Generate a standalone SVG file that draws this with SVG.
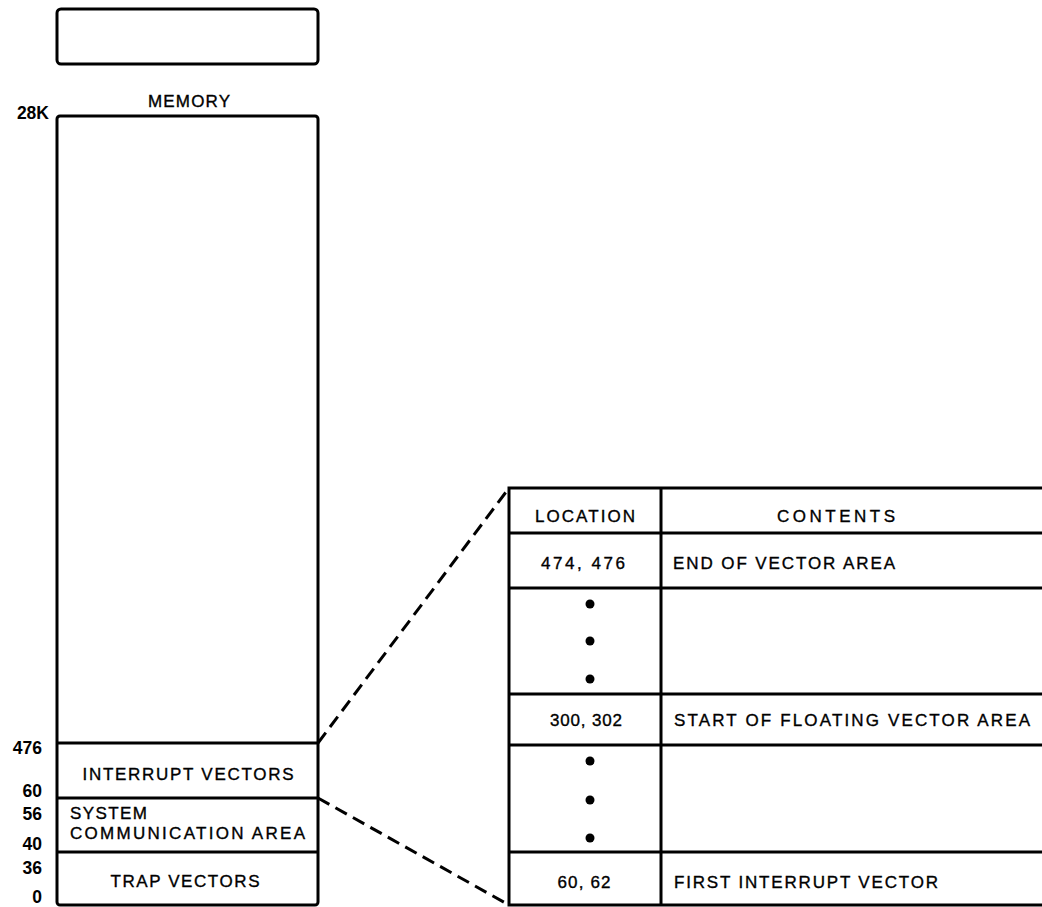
<svg xmlns="http://www.w3.org/2000/svg" width="1042" height="907" viewBox="0 0 1042 907">
<style>
.box{fill:#fff;stroke:#000;stroke-width:3}
.ln{stroke:#000;stroke-width:3;fill:none}
.dash{stroke:#000;stroke-width:3;fill:none;stroke-dasharray:13 7}
text{font-family:"Liberation Sans",Arial,sans-serif;font-size:17px;fill:#000;stroke:#000;stroke-width:0.35}
.num{font-weight:bold;font-size:17.5px;stroke-width:0;text-anchor:end}
.mid{text-anchor:middle}
</style>
<rect width="1042" height="907" fill="#fff"/>
<g id="top-box"><rect class="box" x="57" y="9" width="261" height="55" rx="4"/></g>
<g id="memory">
<text x="189" y="107" class="mid" textLength="82" lengthAdjust="spacing">MEMORY</text>
<text x="49" y="119" class="num">28K</text>
<rect class="box" x="57" y="116" width="261" height="789" rx="3"/>
</g>
<g id="interrupt-vectors">
<line class="ln" x1="57" y1="743" x2="318" y2="743"/>
<text x="188" y="780" class="mid" textLength="211" lengthAdjust="spacing">INTERRUPT VECTORS</text>
</g>
<g id="system-communication-area">
<line class="ln" x1="57" y1="798" x2="318" y2="798"/>
<text x="70" y="819" textLength="77" lengthAdjust="spacing">SYSTEM</text>
<text x="70" y="839" textLength="235" lengthAdjust="spacing">COMMUNICATION AREA</text>
</g>
<g id="trap-vectors">
<line class="ln" x1="57" y1="852" x2="318" y2="852"/>
<text x="185" y="887" class="mid" textLength="149" lengthAdjust="spacing">TRAP VECTORS</text>
</g>
<g id="addresses">
<text x="42" y="754" class="num">476</text>
<text x="42" y="797" class="num">60</text>
<text x="42" y="820" class="num">56</text>
<text x="42" y="850" class="num">40</text>
<text x="42" y="874" class="num">36</text>
<text x="42" y="903" class="num">0</text>
</g>
<g id="connectors">
<line class="dash" x1="318" y1="743" x2="509" y2="488"/>
<line class="dash" x1="318" y1="798" x2="509" y2="905"/>
</g>
<g id="vector-table">
<polyline class="ln" points="1045,488 509,488 509,905 1045,905"/>
<line class="ln" x1="661" y1="488" x2="661" y2="905"/>
<line class="ln" x1="509" y1="533" x2="1045" y2="533"/>
<line class="ln" x1="509" y1="588" x2="1045" y2="588"/>
<line class="ln" x1="509" y1="694" x2="1045" y2="694"/>
<line class="ln" x1="509" y1="745" x2="1045" y2="745"/>
<line class="ln" x1="509" y1="852" x2="1045" y2="852"/>
<text x="585" y="522" class="mid" textLength="100" lengthAdjust="spacing">LOCATION</text>
<text x="836" y="522" class="mid" textLength="118" lengthAdjust="spacing">CONTENTS</text>
<text x="583" y="569" class="mid" textLength="84" lengthAdjust="spacing">474, 476</text>
<text x="673" y="569" textLength="222" lengthAdjust="spacing">END OF VECTOR AREA</text>
<circle cx="590" cy="604" r="4.5"/>
<circle cx="590" cy="641" r="4.5"/>
<circle cx="590" cy="679" r="4.5"/>
<text x="586" y="726" class="mid" textLength="72" lengthAdjust="spacing">300, 302</text>
<text x="674" y="726" textLength="356" lengthAdjust="spacing">START OF FLOATING VECTOR AREA</text>
<circle cx="590" cy="761" r="4.5"/>
<circle cx="590" cy="800" r="4.5"/>
<circle cx="590" cy="838" r="4.5"/>
<text x="584" y="888" class="mid" textLength="53" lengthAdjust="spacing">60, 62</text>
<text x="674" y="888" textLength="264" lengthAdjust="spacing">FIRST INTERRUPT VECTOR</text>
</g>
</svg>
